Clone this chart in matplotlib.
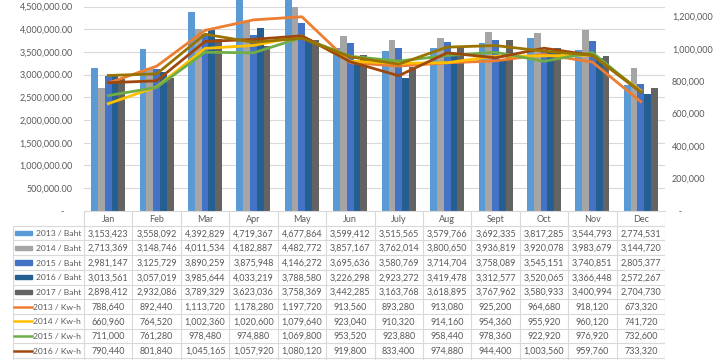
import numpy as np
import matplotlib.pyplot as plt
from matplotlib.ticker import FuncFormatter, MultipleLocator
from matplotlib.patches import Rectangle

plt.rcParams['font.family'] = ['Lato', 'DejaVu Sans']

months = ['Jan', 'Feb', 'Mar', 'Apr', 'May', 'Jun', 'July', 'Aug', 'Sept', 'Oct', 'Nov', 'Dec']

baht_2013 = [3153423, 3558092, 4392829, 4719367, 4677864, 3599412, 3515565, 3579766, 3692335, 3817285, 3544793, 2774531]
baht_2014 = [2713369, 3148746, 4011534, 4182887, 4482772, 3857167, 3762014, 3800650, 3936819, 3920078, 3983679, 3144720]
baht_2015 = [2981147, 3125729, 3890259, 3875948, 4146272, 3695636, 3580769, 3714704, 3758089, 3545151, 3740851, 2805377]
baht_2016 = [3013561, 3057019, 3985644, 4033219, 3788580, 3226298, 2923272, 3419478, 3312577, 3520065, 3366448, 2572267]
baht_2017 = [2898412, 2932086, 3789329, 3623036, 3758369, 3442285, 3163768, 3618895, 3767962, 3580933, 3400994, 2704730]

kwh_2013 = [788640, 892440, 1113720, 1178280, 1197720, 913560, 893280, 913080, 925200, 964680, 918120, 673320]
kwh_2014 = [660960, 764520, 1002360, 1020600, 1079640, 923040, 910320, 914160, 954360, 955920, 960120, 741720]
kwh_2015 = [711000, 761280, 978480, 974880, 1069800, 953520, 923880, 958440, 978360, 922920, 976920, 732600]
kwh_2016 = [790440, 801840, 1045165, 1057920, 1080120, 919800, 833400, 974880, 944400, 1003560, 959760, 733320]
# 2017 row of the table is cut off in the source
kwh_2017 = [835000, 845000, 1090000, 1040000, 1065000, 950000, 905000, 1010000, 1020000, 985000, 960000, 735000]

bar_labels = ['2013 / Baht', '2014 / Baht', '2015 / Baht', '2016 / Baht', '2017 / Baht']
line_labels = ['2013 / Kw-h', '2014 / Kw-h', '2015 / Kw-h', '2016 / Kw-h']
bar_data = [baht_2013, baht_2014, baht_2015, baht_2016, baht_2017]
line_data = [kwh_2013, kwh_2014, kwh_2015, kwh_2016, kwh_2017]
bar_colors = ['#5B9BD5', '#A5A5A5', '#4472C4', '#255E91', '#636363']
line_colors = ['#ED7D31', '#FFC000', '#70AD47', '#9E480E', '#997300']

TXT = '#595959'
GRID = '#D9D9D9'
FS = 6.5

fig = plt.figure(figsize=(7.2, 3.6), dpi=100)
ax = fig.add_axes([84 / 720, (360 - 210.7) / 360, 581 / 720, 226.7 / 360])

x = np.arange(len(months))
w = 0.1405
for i, (vals, c) in enumerate(zip(bar_data, bar_colors)):
    ax.bar(x + (i - 2) * w, vals, w, color=c, zorder=2)

ax.set_xlim(-0.5, 11.5)
ax.set_ylim(0, 5000000)
ax.set_yticks(np.arange(0, 4500001, 500000))
ax.yaxis.set_major_formatter(FuncFormatter(lambda v, p: f'{v:,.2f}' if v else '-    '))
ax.grid(axis='y', color=GRID, lw=0.8)
ax.set_axisbelow(True)
ax.tick_params(axis='y', length=0, pad=8, labelsize=FS, labelcolor=TXT)
ax.set_xticks([])
for s in ['left', 'right', 'top']:
    ax.spines[s].set_visible(False)
ax.spines['bottom'].set_color(GRID)

ax2 = ax.twinx()
for vals, c in zip(line_data, line_colors):
    ax2.plot(x, vals, color=c, lw=2.0, zorder=3)
ax2.set_ylim(0, 1400000)
ax2.set_yticks(np.arange(0, 1200001, 200000))
ax2.yaxis.set_major_formatter(FuncFormatter(lambda v, p: f'{v:,.0f}' if v else '   -'))
ax2.tick_params(axis='y', length=0, pad=5, labelsize=FS, labelcolor=TXT)
for s in ax2.spines.values():
    s.set_visible(False)

# data table under the chart
L = -0.5 - 71 / 48.4
tab = fig.add_axes([13 / 720, (360 - 372.7) / 360, 652 / 720, 161.7 / 360])
tab.set_xlim(L, 11.5)
tab.set_ylim(11, 0)
tab.axis('off')

for r in range(1, 12):
    tab.plot([L, 11.5], [r, r], color=GRID, lw=0.8)
for k in range(13):
    tab.plot([k - 0.5, k - 0.5], [0, 11], color=GRID, lw=0.8)
tab.plot([L, L], [1, 11], color=GRID, lw=0.8)

for k, m in enumerate(months):
    tab.text(k, 0.55, m, ha='center', va='center', fontsize=FS, color=TXT)

rows = list(zip(bar_labels, bar_data, bar_colors, ['bar'] * 5)) + \
    list(zip(line_labels, line_data, line_colors, ['line'] * 4))
for r, (lab, vals, c, kind) in enumerate(rows, start=1):
    yc = r + 0.55
    for k, v in enumerate(vals):
        tab.text(k, yc, f'{v:,}', ha='center', va='center', fontsize=FS, color=TXT)
    tab.text(-0.5 - 3 / 48.4, yc, lab, ha='right', va='center', fontsize=6.1, color=TXT)
    if kind == 'bar':
        tab.add_patch(Rectangle((L + 2 / 48.4, r + 0.5 - 0.14), 17 / 48.4, 0.28, color=c))
    else:
        tab.plot([L + 1 / 48.4, L + 19 / 48.4], [r + 0.5, r + 0.5], color=c, lw=1.8)

fig.savefig('out.png', dpi=100)
